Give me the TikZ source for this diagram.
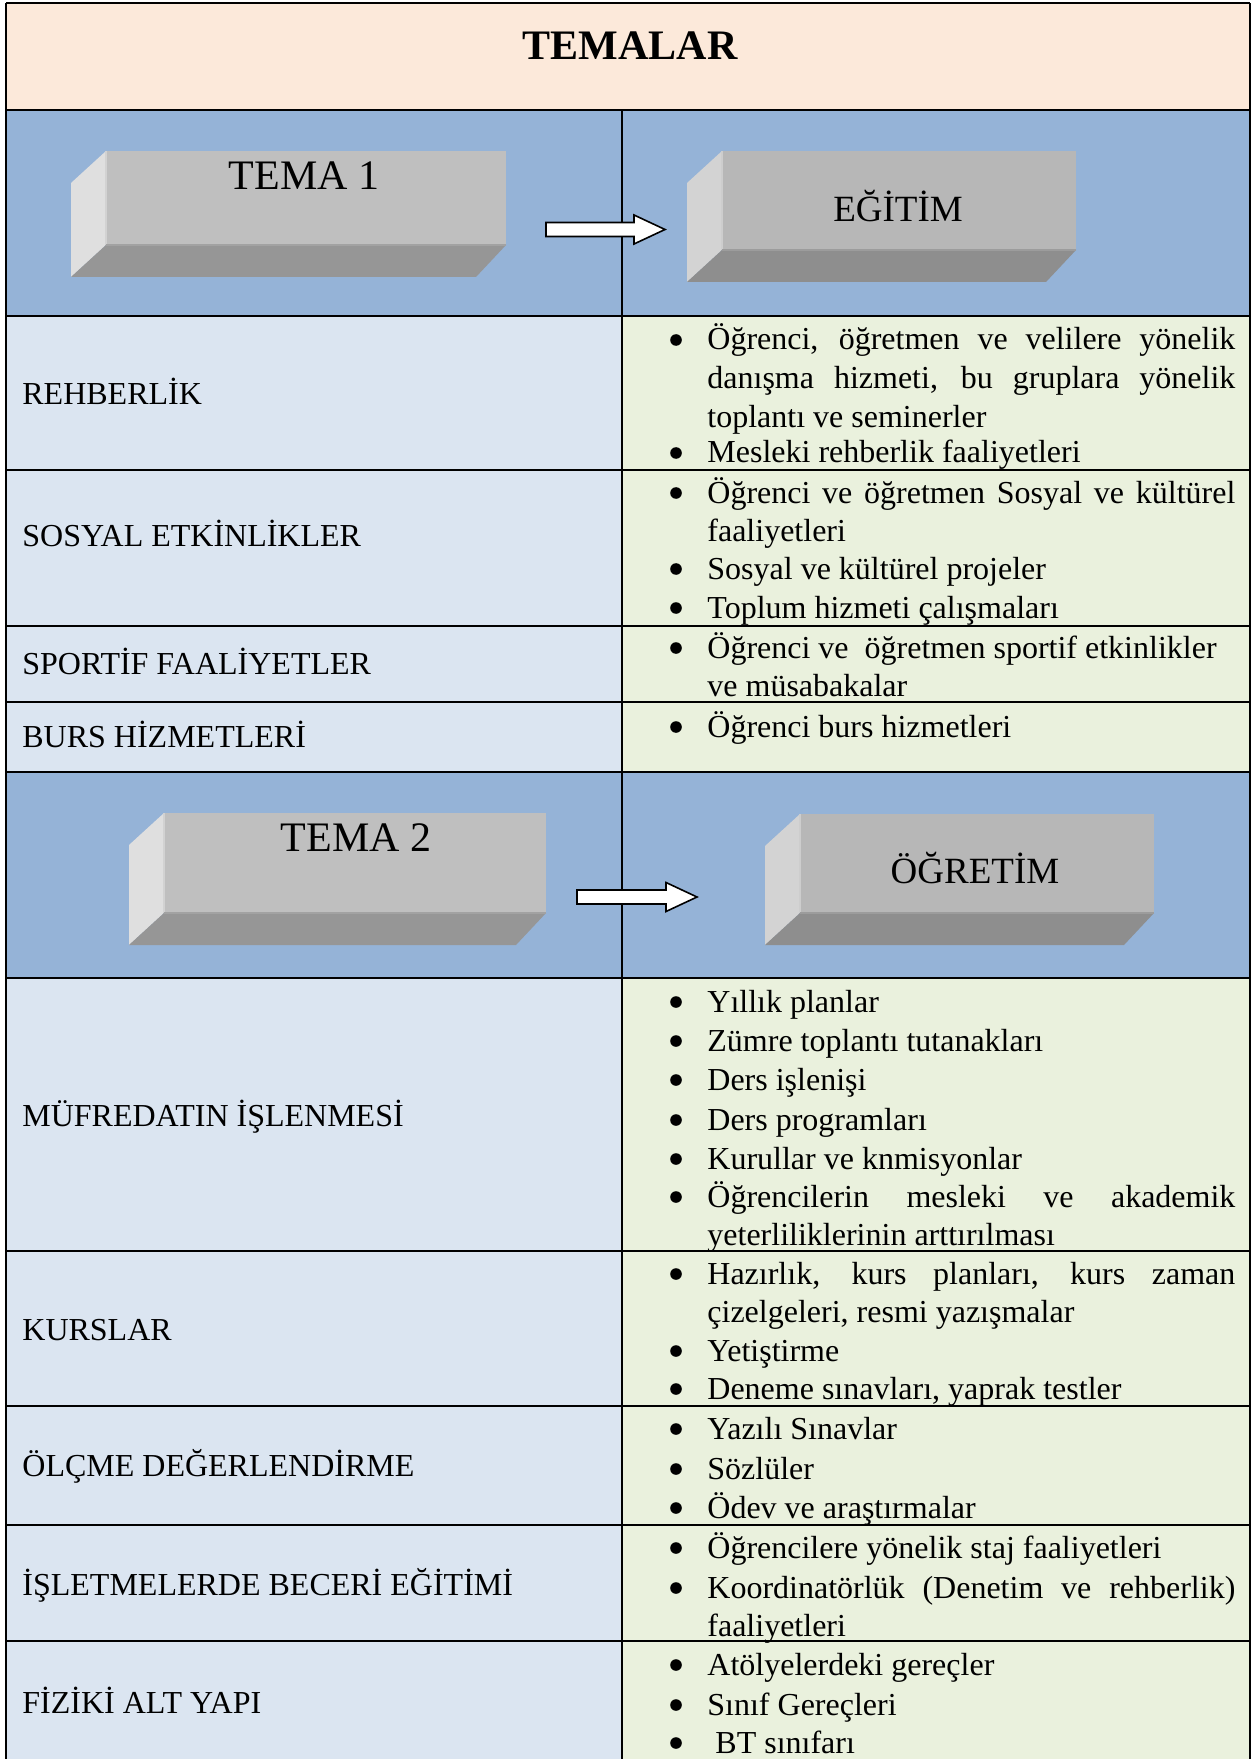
\documentclass[tikz,border=0pt]{standalone}
\usepackage{fontspec}
\setmainfont{Liberation Serif}
\usetikzlibrary{calc}

\definecolor{headfill}{RGB}{252,233,218}
\definecolor{bandfill}{RGB}{149,179,215}
\definecolor{namefill}{RGB}{219,229,241}
\definecolor{listfill}{RGB}{234,241,221}
\definecolor{frontA}{RGB}{191,191,191}
\definecolor{sideA}{RGB}{223,223,223}
\definecolor{baseA}{RGB}{150,150,150}
\definecolor{frontB}{RGB}{183,183,183}
\definecolor{sideB}{RGB}{211,211,211}
\definecolor{baseB}{RGB}{142,142,142}

\newcommand\bodyfont{\fontsize{16pt}{19.3pt}\selectfont}

% bevelled 3-D block: #1 name, front face (#2,#3)-(#4,#5), colours #6 front, #7 side, #8 bottom
\newcommand\bevelbox[8]{%
  \fill[#7] (#2,#3) -- (#2,#5) -- (#2-35,#5+32) -- (#2-35,#3+32) -- cycle;
  \fill[#8] (#2,#5) -- (#4,#5) -- (#4-30,#5+32) -- (#2-35,#5+32) -- cycle;
  \fill[#6] (#2,#3) rectangle (#4,#5);
  \draw[#6!70!white, line width=0.8pt] (#2,#3) -- (#2,#5);
  \draw[#6!85!black, line width=0.6pt] (#2,#5) -- (#4,#5);
  \coordinate (#1-nw) at (#2,#3);
  \coordinate (#1-se) at (#4,#5);
}

% white block arrow from coordinate #1 (tail) to coordinate #2 (tip)
\newcommand\blockarrow[2]{%
  \draw[blockarrow] ($(#1)+(0,-7)$) -- ($(#2)+(-31,-7)$) -- ($(#2)+(-31,-14.5)$)
    -- (#2) -- ($(#2)+(-31,14.5)$) -- ($(#2)+(-31,7)$) -- ($(#1)+(0,7)$) -- cycle;
}

% one bulleted entry: #1 name, #2 bullet height, #3 text
\newcommand\bitem[3]{%
  \node[itemtext] (#1) at (707,#2+10) {#3};
  \fill ([shift={(-31,-10)}]#1.base west) circle[radius=2.9pt];
}

\begin{document}
\begin{tikzpicture}[x=0.5pt,y=-0.5pt,
  thickrule/.style={line width=1pt},
  thinrule/.style={line width=0.6pt},
  blockarrow/.style={draw=black, fill=white, line width=0.8pt, line join=miter},
  itemtext/.style={anchor=base west, inner sep=0pt, text width=264pt,
    align=justify, font=\bodyfont},
  lbl/.style={anchor=base west, inner sep=0pt, font=\bodyfont},
  boxtext/.style={anchor=base, inner sep=0pt},
]
\useasboundingbox (0,0) rectangle (1253,1759);

% cell backgrounds
\fill[headfill] (6,3) rectangle (1250,110);
\fill[bandfill] (6,110) rectangle (1250,316);
\fill[namefill] (6,316) rectangle (622,772);
\fill[listfill] (622,316) rectangle (1250,772);
\fill[bandfill] (6,772) rectangle (1250,978);
\fill[namefill] (6,978) rectangle (622,1765);
\fill[listfill] (622,978) rectangle (1250,1765);

% rules
\draw[line width=0.8pt] (6,3) -- (1250,3);
\draw[line width=0.9pt] (6,3) -- (6,1765);
\draw[line width=0.9pt] (1250,3) -- (1250,1765);
\draw[line width=0.8pt] (622,110) -- (622,1765);
\draw[thinrule] (6,110) -- (1250,110);
\draw[thickrule] (6,316) -- (1250,316);
\draw[thickrule] (6,470) -- (1250,470);
\draw[thickrule] (6,626) -- (1250,626);
\draw[thinrule] (6,702) -- (1250,702);
\draw[thickrule] (6,772) -- (1250,772);
\draw[thinrule] (6,978) -- (1250,978);
\draw[thinrule] (6,1251) -- (1250,1251);
\draw[thinrule] (6,1406) -- (1250,1406);
\draw[thinrule] (6,1525) -- (1250,1525);
\draw[thinrule] (6,1641) -- (1250,1641);

% title
\node[boxtext, font=\fontsize{21pt}{25pt}\selectfont\bfseries] (title) at (630,60) {TEMALAR};

% theme blocks
\bevelbox{t1}{106}{151}{506}{245}{frontA}{sideA}{baseA}
\bevelbox{e1}{722}{151}{1076}{250}{frontB}{sideB}{baseB}
\bevelbox{t2}{164}{813}{546}{913}{frontA}{sideA}{baseA}
\bevelbox{e2}{800}{814}{1154}{913}{frontB}{sideB}{baseB}

\node[boxtext, font=\fontsize{21pt}{25pt}\selectfont] (tema1) at (304,190) {TEMA 1};
\node[boxtext, font=\fontsize{18.5pt}{22pt}\selectfont] (egitim) at (898,222) {EĞİTİM};
\node[boxtext, font=\fontsize{21pt}{25pt}\selectfont] (tema2) at (356,851) {TEMA 2};
\node[boxtext, font=\fontsize{18.5pt}{22pt}\selectfont] (ogretim) at (975,883) {ÖĞRETİM};

% arrows between the blocks
\coordinate (a1t) at (546,229.5);
\coordinate (a1h) at (665,229.5);
\blockarrow{a1t}{a1h}
\coordinate (a2t) at (577,897);
\coordinate (a2h) at (697,897);
\blockarrow{a2t}{a2h}

% row headings
\node[lbl] (L1) at (22,404.5) {REHBERLİK};
\node[lbl] (L2) at (22,546.5) {SOSYAL ETKİNLİKLER};
\node[lbl] (L3) at (22,674.5) {SPORTİF FAALİYETLER};
\node[lbl] (L4) at (22,747.5) {BURS HİZMETLERİ};
\node[lbl] (L5) at (22,1126.5) {MÜFREDATIN İŞLENMESİ};
\node[lbl] (L6) at (22,1340.5) {KURSLAR};
\node[lbl] (L7) at (22,1476.5) {ÖLÇME DEĞERLENDİRME};
\node[lbl] (L8) at (22,1595.5) {İŞLETMELERDE BECERİ EĞİTİMİ};
\node[lbl] (L9) at (22,1713.5) {FİZİKİ ALT YAPI};

% bullet lists
\bitem{r1}{340}{Öğrenci, öğretmen ve velilere yönelik\linebreak danışma hizmeti, bu gruplara yönelik\linebreak toplantı ve seminerler}
\bitem{r2}{453}{Mesleki rehberlik faaliyetleri}

\bitem{s1}{493}{Öğrenci ve öğretmen Sosyal ve kültürel\linebreak faaliyetleri}
\bitem{s2}{569}{Sosyal ve kültürel projeler}
\bitem{s3}{608}{Toplum hizmeti çalışmaları}

\bitem{p1}{648}{Öğrenci ve\ \ öğretmen sportif etkinlikler\newline ve müsabakalar}

\bitem{b1}{727}{Öğrenci burs hizmetleri}

\bitem{m1}{1002}{Yıllık planlar}
\bitem{m2}{1041}{Zümre toplantı tutanakları}
\bitem{m3}{1080}{Ders işlenişi}
\bitem{m4}{1120}{Ders programları}
\bitem{m5}{1159}{Kurullar ve knmisyonlar}
\bitem{m6}{1197}{Öğrencilerin mesleki ve akademik\linebreak yeterliliklerinin arttırılması}

\bitem{k1}{1274}{Hazırlık, kurs planları, kurs zaman\linebreak çizelgeleri, resmi yazışmalar}
\bitem{k2}{1351}{Yetiştirme}
\bitem{k3}{1389}{Deneme sınavları, yaprak testler}

\bitem{o1}{1429}{Yazılı Sınavlar}
\bitem{o2}{1469}{Sözlüler}
\bitem{o3}{1508}{Ödev ve araştırmalar}

\bitem{i1}{1548}{Öğrencilere yönelik staj faaliyetleri}
\bitem{i2}{1588}{Koordinatörlük (Denetim ve rehberlik)\linebreak faaliyetleri}

\bitem{f1}{1665}{Atölyelerdeki gereçler}
\bitem{f2}{1705}{Sınıf Gereçleri}
\bitem{f3}{1743}{\hspace*{4pt}BT sınıfarı}
\end{tikzpicture}
\end{document}
